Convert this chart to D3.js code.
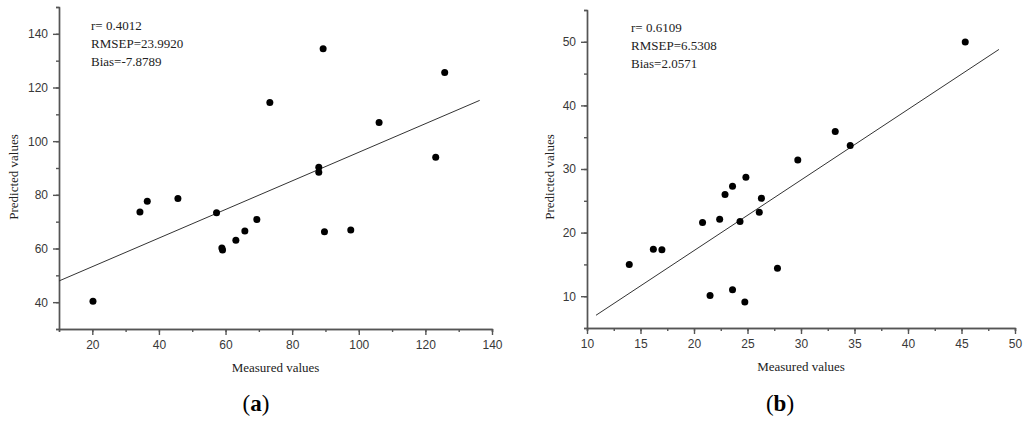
<!DOCTYPE html>
<html lang="en">
<head>
  <meta charset="UTF-8">
  <title>Measured vs Predicted</title>
  <style>
    body { margin: 0; background: #fff; }
    .tick text { font-family: "Liberation Sans", Arial, sans-serif; font-size: 12px; fill: #383838; }
    .domain, .tick line { stroke: #555; stroke-width: 1.4; }
    .serif { font-family: "Liberation Serif", "Times New Roman", serif; fill: #222; }
  </style>
</head>
<body>
<div id="chart"></div>
<script src="https://d3js.org/d3.v7.min.js"></script>
<script>
// panel (a)
const measuredA = [89.3, 125.8, 73.3, 106.1, 123.1, 88.0, 88.0, 34.3, 36.5, 45.7, 57.3, 69.4, 65.8, 63.1, 58.9, 59.1, 89.7, 97.6, 20.2]
const predictedA = [134.4, 125.6, 114.4, 107.0, 94.0, 90.3, 88.4, 73.6, 77.6, 78.6, 73.3, 70.8, 66.5, 63.1, 60.2, 59.4, 66.2, 66.9, 40.3]
const fitA = [[10, 47.9], [136.3, 115.2]]
const statsA = ['r= 0.4012', 'RMSEP=23.9920', 'Bias=-7.8789']

// panel (b)
const measuredB = [45.35, 33.2, 34.6, 29.7, 24.85, 23.6, 22.9, 26.3, 26.1, 22.4, 20.8, 24.3, 16.2, 17.0, 13.95, 27.8, 21.5, 23.6, 24.75]
const predictedB = [49.95, 35.9, 33.7, 31.4, 28.7, 27.3, 26.0, 25.4, 23.2, 22.1, 21.6, 21.75, 17.4, 17.3, 15.0, 14.4, 10.1, 11.0, 9.1]
const fitB = [[10.84, 7.0], [48.5, 48.8]]
const statsB = ['r= 0.6109', 'RMSEP=6.5308', 'Bias=2.0571']

const svg = d3.select('#chart').append('svg')
  .attr('width', 1024)
  .attr('height', 421)

function drawPanel(cfg) {
  const xscale = d3.scaleLinear().domain(cfg.xDomain).range([cfg.left, cfg.right])
  const yscale = d3.scaleLinear().domain(cfg.yDomain).range([cfg.bottom, cfg.top])
  const g = svg.append('g')

  // minor ticks first, then labelled major ticks
  g.append('g')
    .attr('transform', `translate(0, ${cfg.bottom})`)
    .call(d3.axisBottom(xscale).tickValues(d3.range(cfg.xDomain[0], cfg.xDomain[1] + 0.01, cfg.xMinor)).tickSize(3).tickFormat(''))
  g.append('g')
    .attr('transform', `translate(0, ${cfg.bottom})`)
    .call(d3.axisBottom(xscale).tickValues(cfg.xTicks).tickSize(6).tickPadding(5).tickSizeOuter(0))

  g.append('g')
    .attr('transform', `translate(${cfg.left}, 0)`)
    .call(d3.axisLeft(yscale).tickValues(d3.range(cfg.yDomain[0], cfg.yDomain[1] + 0.01, cfg.yMinor)).tickSize(3).tickFormat(''))
  g.append('g')
    .attr('transform', `translate(${cfg.left}, 0)`)
    .call(d3.axisLeft(yscale).tickValues(cfg.yTicks).tickSize(6).tickPadding(5).tickSizeOuter(0))

  // fit line
  g.append('path')
    .datum(cfg.fit)
    .attr('d', d3.line().x(d => xscale(d[0])).y(d => yscale(d[1])))
    .attr('fill', 'none')
    .attr('stroke', '#333')
    .attr('stroke-width', 1)

  // points
  g.append('g')
    .selectAll('circle')
    .data(cfg.xs)
    .enter()
    .append('circle')
      .attr('cx', d => xscale(d))
      .attr('cy', (d, i) => yscale(cfg.ys[i]))
      .attr('r', 3.5)
      .style('fill', '#000')

  // stats text
  g.append('text')
    .attr('class', 'serif')
    .attr('x', cfg.statsX)
    .attr('y', cfg.statsY)
    .style('font-size', '13px')
    .selectAll('tspan')
    .data(cfg.stats)
    .enter()
    .append('tspan')
      .attr('x', cfg.statsX)
      .attr('dy', (d, i) => i === 0 ? 0 : 18)
      .text(d => d)

  // axis titles
  g.append('text')
    .attr('class', 'serif')
    .attr('x', (cfg.left + cfg.right) / 2)
    .attr('y', cfg.bottom + 43)
    .attr('text-anchor', 'middle')
    .style('font-size', '13px')
    .text('Measured values')

  g.append('text')
    .attr('class', 'serif')
    .attr('transform', `translate(${cfg.yTitleX}, 177) rotate(-90)`)
    .attr('text-anchor', 'middle')
    .attr('dy', '0.35em')
    .style('font-size', '13px')
    .text('Predicted values')

  const lab = g.append('text')
    .attr('class', 'serif')
    .attr('x', cfg.labelX)
    .attr('y', 411)
    .attr('text-anchor', 'middle')
    .style('font-size', '23px')
    .style('fill', '#000')
  lab.append('tspan').text('(')
  lab.append('tspan').style('font-weight', 'bold').text(cfg.label)
  lab.append('tspan').text(')')
}

drawPanel({
  xs: measuredA, ys: predictedA, fit: fitA, stats: statsA, label: 'a',
  xDomain: [10, 140], yDomain: [30, 150], xTicks: d3.range(20, 141, 20), yTicks: d3.range(40, 141, 20),
  xMinor: 10, yMinor: 10,
  left: 59, right: 492, top: 7, bottom: 329,
  statsX: 91, statsY: 30, labelX: 256, yTitleX: 13
})

drawPanel({
  xs: measuredB, ys: predictedB, fit: fitB, stats: statsB, label: 'b',
  xDomain: [10, 50], yDomain: [5, 55], xTicks: d3.range(10, 51, 5), yTicks: d3.range(10, 51, 10),
  xMinor: 2.5, yMinor: 5,
  left: 587, right: 1015, top: 10, bottom: 328,
  statsX: 631, statsY: 32, labelX: 780, yTitleX: 549
})
</script>
</body>
</html>
